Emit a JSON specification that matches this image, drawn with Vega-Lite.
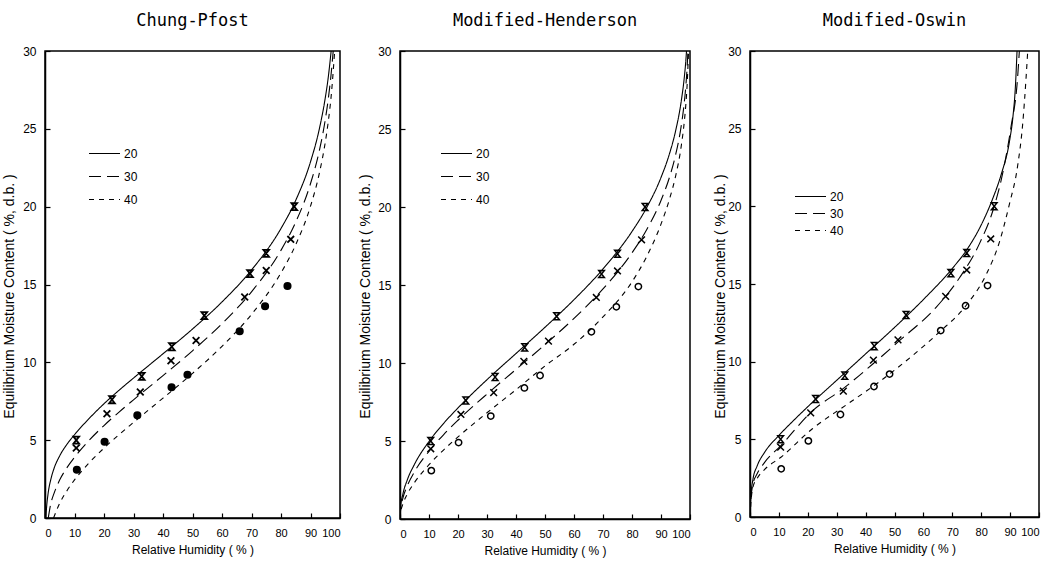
{
  "$schema": "https://vega.github.io/schema/vega-lite/v6.json",
  "background": "white",
  "padding": {"left": 1, "top": 11, "right": 5, "bottom": 5},
  "config": {
    "view": {"stroke": "black", "strokeWidth": 1.5},
    "title": {"font": "DejaVu Sans Mono", "fontSize": 17, "fontWeight": "normal", "color": "black", "offset": 15, "anchor": "middle"},
    "axis": {"grid": false, "domainColor": "black", "domainWidth": 1.5, "tickColor": "black", "tickSize": -5, "tickWidth": 1.2,
      "labelFont": "Liberation Sans Narrow, Liberation Sans", "labelFontSize": 12, "labelColor": "black", "labelOverlap": false,
      "titleFont": "Liberation Sans", "titleFontSize": 12, "titleFontWeight": "normal", "titleColor": "black", "labelPadding": 14},
    "axisX": {"titlePadding": 6, "labelOverlap": false, "labelFontSize": 11, "tickCount": 11},
    "axisY": {"titlePadding": 6, "titleFontSize": 14, "titleY": 245},
    "legend": {"padding": 0, "labelFont": "Liberation Sans Narrow, Liberation Sans", "labelFontSize": 12, "labelColor": "black",
      "symbolType": "stroke", "symbolStrokeColor": "black", "symbolStrokeWidth": 1.1, "symbolSize": 961, "labelOffset": 3, "rowPadding": 0, "title": null}
  },
  "datasets": {
    "pts": [
      {"T": "20", "RH": 10.6, "EMC": 5.0}, {"T": "20", "RH": 22.7, "EMC": 7.6}, {"T": "20", "RH": 32.8, "EMC": 9.1}, {"T": "20", "RH": 43, "EMC": 11.0},
      {"T": "20", "RH": 54, "EMC": 13.0}, {"T": "20", "RH": 69.5, "EMC": 15.7}, {"T": "20", "RH": 75, "EMC": 17.0}, {"T": "20", "RH": 84.5, "EMC": 20.0},
      {"T": "30", "RH": 10.6, "EMC": 4.5}, {"T": "30", "RH": 21, "EMC": 6.7}, {"T": "30", "RH": 32.3, "EMC": 8.1}, {"T": "30", "RH": 42.7, "EMC": 10.1},
      {"T": "30", "RH": 51.2, "EMC": 11.4}, {"T": "30", "RH": 67.7, "EMC": 14.2}, {"T": "30", "RH": 75, "EMC": 15.9}, {"T": "30", "RH": 83.3, "EMC": 17.9},
      {"T": "40", "RH": 10.8, "EMC": 3.1}, {"T": "40", "RH": 20.2, "EMC": 4.9}, {"T": "40", "RH": 31.3, "EMC": 6.6}, {"T": "40", "RH": 42.9, "EMC": 8.4},
      {"T": "40", "RH": 48.3, "EMC": 9.2}, {"T": "40", "RH": 66, "EMC": 12.0}, {"T": "40", "RH": 74.6, "EMC": 13.6}, {"T": "40", "RH": 82.2, "EMC": 14.9}
    ],
    "curves": [
      {"m": "CP", "T": "20", "RH": 0.3, "EMC": 0}, {"m": "CP", "T": "20", "RH": 0.5, "EMC": 0.6}, {"m": "CP", "T": "20", "RH": 1, "EMC": 1.5},
      {"m": "CP", "T": "20", "RH": 2, "EMC": 2.5}, {"m": "CP", "T": "20", "RH": 3, "EMC": 3.15}, {"m": "CP", "T": "20", "RH": 5, "EMC": 4.0},
      {"m": "CP", "T": "20", "RH": 7.5, "EMC": 4.75}, {"m": "CP", "T": "20", "RH": 10, "EMC": 5.35}, {"m": "CP", "T": "20", "RH": 15, "EMC": 6.4},
      {"m": "CP", "T": "20", "RH": 20, "EMC": 7.34}, {"m": "CP", "T": "20", "RH": 25, "EMC": 8.19}, {"m": "CP", "T": "20", "RH": 30, "EMC": 8.99},
      {"m": "CP", "T": "20", "RH": 40, "EMC": 10.55}, {"m": "CP", "T": "20", "RH": 50, "EMC": 12.14}, {"m": "CP", "T": "20", "RH": 60, "EMC": 13.88},
      {"m": "CP", "T": "20", "RH": 70, "EMC": 15.93}, {"m": "CP", "T": "20", "RH": 80, "EMC": 18.6}, {"m": "CP", "T": "20", "RH": 85, "EMC": 20.41},
      {"m": "CP", "T": "20", "RH": 90, "EMC": 22.88}, {"m": "CP", "T": "20", "RH": 93, "EMC": 25.0}, {"m": "CP", "T": "20", "RH": 95, "EMC": 26.98},
      {"m": "CP", "T": "20", "RH": 96, "EMC": 28.28}, {"m": "CP", "T": "20", "RH": 97, "EMC": 30},

      {"m": "CP", "T": "30", "RH": 1.1, "EMC": 0}, {"m": "CP", "T": "30", "RH": 2, "EMC": 0.95}, {"m": "CP", "T": "30", "RH": 3, "EMC": 1.55},
      {"m": "CP", "T": "30", "RH": 5, "EMC": 2.45}, {"m": "CP", "T": "30", "RH": 7.5, "EMC": 3.25}, {"m": "CP", "T": "30", "RH": 10, "EMC": 3.9},
      {"m": "CP", "T": "30", "RH": 15, "EMC": 5.0}, {"m": "CP", "T": "30", "RH": 20, "EMC": 5.94}, {"m": "CP", "T": "30", "RH": 25, "EMC": 6.79},
      {"m": "CP", "T": "30", "RH": 30, "EMC": 7.59}, {"m": "CP", "T": "30", "RH": 40, "EMC": 9.15}, {"m": "CP", "T": "30", "RH": 50, "EMC": 10.74},
      {"m": "CP", "T": "30", "RH": 60, "EMC": 12.48}, {"m": "CP", "T": "30", "RH": 70, "EMC": 14.53}, {"m": "CP", "T": "30", "RH": 80, "EMC": 17.2},
      {"m": "CP", "T": "30", "RH": 85, "EMC": 19.01}, {"m": "CP", "T": "30", "RH": 90, "EMC": 21.48}, {"m": "CP", "T": "30", "RH": 93, "EMC": 23.6},
      {"m": "CP", "T": "30", "RH": 95, "EMC": 25.58}, {"m": "CP", "T": "30", "RH": 96, "EMC": 26.88}, {"m": "CP", "T": "30", "RH": 97, "EMC": 28.54},
      {"m": "CP", "T": "30", "RH": 97.7, "EMC": 30},

      {"m": "CP", "T": "40", "RH": 2.9, "EMC": 0}, {"m": "CP", "T": "40", "RH": 5, "EMC": 0.95}, {"m": "CP", "T": "40", "RH": 7.5, "EMC": 1.77},
      {"m": "CP", "T": "40", "RH": 10, "EMC": 2.45}, {"m": "CP", "T": "40", "RH": 15, "EMC": 3.55}, {"m": "CP", "T": "40", "RH": 20, "EMC": 4.49},
      {"m": "CP", "T": "40", "RH": 25, "EMC": 5.34}, {"m": "CP", "T": "40", "RH": 30, "EMC": 6.14}, {"m": "CP", "T": "40", "RH": 40, "EMC": 7.7},
      {"m": "CP", "T": "40", "RH": 50, "EMC": 9.29}, {"m": "CP", "T": "40", "RH": 60, "EMC": 11.03}, {"m": "CP", "T": "40", "RH": 70, "EMC": 13.08},
      {"m": "CP", "T": "40", "RH": 80, "EMC": 15.75}, {"m": "CP", "T": "40", "RH": 85, "EMC": 17.56}, {"m": "CP", "T": "40", "RH": 90, "EMC": 20.03},
      {"m": "CP", "T": "40", "RH": 93, "EMC": 22.15}, {"m": "CP", "T": "40", "RH": 95, "EMC": 24.13}, {"m": "CP", "T": "40", "RH": 96, "EMC": 25.43},
      {"m": "CP", "T": "40", "RH": 97, "EMC": 27.09}, {"m": "CP", "T": "40", "RH": 98.2, "EMC": 30},

      {"m": "MH", "T": "20", "RH": 0, "EMC": 0}, {"m": "MH", "T": "20", "RH": 0.25, "EMC": 0.82}, {"m": "MH", "T": "20", "RH": 1, "EMC": 1.6},
      {"m": "MH", "T": "20", "RH": 2.5, "EMC": 2.5}, {"m": "MH", "T": "20", "RH": 5, "EMC": 3.51}, {"m": "MH", "T": "20", "RH": 10, "EMC": 4.97},
      {"m": "MH", "T": "20", "RH": 15, "EMC": 6.12}, {"m": "MH", "T": "20", "RH": 20, "EMC": 7.12}, {"m": "MH", "T": "20", "RH": 30, "EMC": 8.93},
      {"m": "MH", "T": "20", "RH": 40, "EMC": 10.61}, {"m": "MH", "T": "20", "RH": 50, "EMC": 12.29}, {"m": "MH", "T": "20", "RH": 60, "EMC": 14.06},
      {"m": "MH", "T": "20", "RH": 70, "EMC": 16.03}, {"m": "MH", "T": "20", "RH": 80, "EMC": 18.43}, {"m": "MH", "T": "20", "RH": 85, "EMC": 19.94},
      {"m": "MH", "T": "20", "RH": 90, "EMC": 21.89}, {"m": "MH", "T": "20", "RH": 93, "EMC": 23.46}, {"m": "MH", "T": "20", "RH": 95, "EMC": 24.85},
      {"m": "MH", "T": "20", "RH": 97, "EMC": 26.81}, {"m": "MH", "T": "20", "RH": 98, "EMC": 28.25}, {"m": "MH", "T": "20", "RH": 98.5, "EMC": 29.23},
      {"m": "MH", "T": "20", "RH": 98.8, "EMC": 30},

      {"m": "MH", "T": "30", "RH": 0, "EMC": 0}, {"m": "MH", "T": "30", "RH": 0.25, "EMC": 0.66}, {"m": "MH", "T": "30", "RH": 1, "EMC": 1.34},
      {"m": "MH", "T": "30", "RH": 2.5, "EMC": 2.12}, {"m": "MH", "T": "30", "RH": 5, "EMC": 3.03}, {"m": "MH", "T": "30", "RH": 10, "EMC": 4.34},
      {"m": "MH", "T": "30", "RH": 15, "EMC": 5.4}, {"m": "MH", "T": "30", "RH": 20, "EMC": 6.33}, {"m": "MH", "T": "30", "RH": 30, "EMC": 8.01},
      {"m": "MH", "T": "30", "RH": 40, "EMC": 9.59}, {"m": "MH", "T": "30", "RH": 50, "EMC": 11.18}, {"m": "MH", "T": "30", "RH": 60, "EMC": 12.86},
      {"m": "MH", "T": "30", "RH": 70, "EMC": 14.75}, {"m": "MH", "T": "30", "RH": 80, "EMC": 17.06}, {"m": "MH", "T": "30", "RH": 85, "EMC": 18.53},
      {"m": "MH", "T": "30", "RH": 90, "EMC": 20.42}, {"m": "MH", "T": "30", "RH": 93, "EMC": 21.95}, {"m": "MH", "T": "30", "RH": 95, "EMC": 23.31},
      {"m": "MH", "T": "30", "RH": 97, "EMC": 25.23}, {"m": "MH", "T": "30", "RH": 98, "EMC": 26.65}, {"m": "MH", "T": "30", "RH": 98.5, "EMC": 27.61},
      {"m": "MH", "T": "30", "RH": 99, "EMC": 28.92}, {"m": "MH", "T": "30", "RH": 99.3, "EMC": 30},

      {"m": "MH", "T": "40", "RH": 0, "EMC": 0}, {"m": "MH", "T": "40", "RH": 0.25, "EMC": 0.45}, {"m": "MH", "T": "40", "RH": 1, "EMC": 0.96},
      {"m": "MH", "T": "40", "RH": 2.5, "EMC": 1.59}, {"m": "MH", "T": "40", "RH": 5, "EMC": 2.34}, {"m": "MH", "T": "40", "RH": 10, "EMC": 3.48},
      {"m": "MH", "T": "40", "RH": 15, "EMC": 4.42}, {"m": "MH", "T": "40", "RH": 20, "EMC": 5.26}, {"m": "MH", "T": "40", "RH": 30, "EMC": 6.81},
      {"m": "MH", "T": "40", "RH": 40, "EMC": 8.29}, {"m": "MH", "T": "40", "RH": 50, "EMC": 9.81}, {"m": "MH", "T": "40", "RH": 60, "EMC": 11.2},
      {"m": "MH", "T": "40", "RH": 70, "EMC": 12.95}, {"m": "MH", "T": "40", "RH": 80, "EMC": 15.2}, {"m": "MH", "T": "40", "RH": 85, "EMC": 16.8},
      {"m": "MH", "T": "40", "RH": 90, "EMC": 18.9}, {"m": "MH", "T": "40", "RH": 93, "EMC": 20.55}, {"m": "MH", "T": "40", "RH": 95, "EMC": 21.95},
      {"m": "MH", "T": "40", "RH": 97, "EMC": 23.93}, {"m": "MH", "T": "40", "RH": 98, "EMC": 25.41}, {"m": "MH", "T": "40", "RH": 98.5, "EMC": 26.42},
      {"m": "MH", "T": "40", "RH": 99, "EMC": 27.8}, {"m": "MH", "T": "40", "RH": 99.5, "EMC": 30},

      {"m": "MO", "T": "20", "RH": 0, "EMC": 0}, {"m": "MO", "T": "20", "RH": 0.3, "EMC": 1.3}, {"m": "MO", "T": "20", "RH": 1, "EMC": 2.4},
      {"m": "MO", "T": "20", "RH": 2.5, "EMC": 3.3}, {"m": "MO", "T": "20", "RH": 5, "EMC": 4.15}, {"m": "MO", "T": "20", "RH": 10, "EMC": 5.25},
      {"m": "MO", "T": "20", "RH": 15, "EMC": 6.2}, {"m": "MO", "T": "20", "RH": 20, "EMC": 7.1}, {"m": "MO", "T": "20", "RH": 30, "EMC": 8.8},
      {"m": "MO", "T": "20", "RH": 40, "EMC": 10.5}, {"m": "MO", "T": "20", "RH": 50, "EMC": 12.2}, {"m": "MO", "T": "20", "RH": 60, "EMC": 14.0},
      {"m": "MO", "T": "20", "RH": 70, "EMC": 16.0}, {"m": "MO", "T": "20", "RH": 75, "EMC": 17.2}, {"m": "MO", "T": "20", "RH": 80, "EMC": 18.8},
      {"m": "MO", "T": "20", "RH": 84, "EMC": 20.5}, {"m": "MO", "T": "20", "RH": 87, "EMC": 22.1}, {"m": "MO", "T": "20", "RH": 89.8, "EMC": 24.2},
      {"m": "MO", "T": "20", "RH": 91, "EMC": 25.8}, {"m": "MO", "T": "20", "RH": 91.8, "EMC": 27.6}, {"m": "MO", "T": "20", "RH": 92.4, "EMC": 30},

      {"m": "MO", "T": "30", "RH": 0, "EMC": 0}, {"m": "MO", "T": "30", "RH": 0.3, "EMC": 1.1}, {"m": "MO", "T": "30", "RH": 1, "EMC": 2.1},
      {"m": "MO", "T": "30", "RH": 2.5, "EMC": 2.8}, {"m": "MO", "T": "30", "RH": 5, "EMC": 3.5}, {"m": "MO", "T": "30", "RH": 10.7, "EMC": 4.6},
      {"m": "MO", "T": "30", "RH": 21.7, "EMC": 6.85}, {"m": "MO", "T": "30", "RH": 32.1, "EMC": 8.25}, {"m": "MO", "T": "30", "RH": 42.5, "EMC": 9.85},
      {"m": "MO", "T": "30", "RH": 51.7, "EMC": 11.35}, {"m": "MO", "T": "30", "RH": 64.4, "EMC": 13.5}, {"m": "MO", "T": "30", "RH": 72.5, "EMC": 15.4},
      {"m": "MO", "T": "30", "RH": 79.4, "EMC": 17.6}, {"m": "MO", "T": "30", "RH": 84, "EMC": 19.7}, {"m": "MO", "T": "30", "RH": 87.4, "EMC": 22.1},
      {"m": "MO", "T": "30", "RH": 90.3, "EMC": 25.1}, {"m": "MO", "T": "30", "RH": 92.6, "EMC": 28.3}, {"m": "MO", "T": "30", "RH": 93.2, "EMC": 30},

      {"m": "MO", "T": "40", "RH": 0, "EMC": 0}, {"m": "MO", "T": "40", "RH": 0.3, "EMC": 0.9}, {"m": "MO", "T": "40", "RH": 1, "EMC": 1.9},
      {"m": "MO", "T": "40", "RH": 2.5, "EMC": 2.5}, {"m": "MO", "T": "40", "RH": 5, "EMC": 3.05}, {"m": "MO", "T": "40", "RH": 10.7, "EMC": 3.85},
      {"m": "MO", "T": "40", "RH": 21.7, "EMC": 5.7}, {"m": "MO", "T": "40", "RH": 33.2, "EMC": 7.2}, {"m": "MO", "T": "40", "RH": 44.7, "EMC": 8.7},
      {"m": "MO", "T": "40", "RH": 56.3, "EMC": 10.4}, {"m": "MO", "T": "40", "RH": 65.5, "EMC": 11.9}, {"m": "MO", "T": "40", "RH": 74.7, "EMC": 13.6},
      {"m": "MO", "T": "40", "RH": 81.7, "EMC": 15.6}, {"m": "MO", "T": "40", "RH": 86.3, "EMC": 17.7}, {"m": "MO", "T": "40", "RH": 89.7, "EMC": 20.1},
      {"m": "MO", "T": "40", "RH": 92.6, "EMC": 22.6}, {"m": "MO", "T": "40", "RH": 94.4, "EMC": 25.4}, {"m": "MO", "T": "40", "RH": 95.5, "EMC": 28.2},
      {"m": "MO", "T": "40", "RH": 96.1, "EMC": 30}
    ]
  },
  "spacing": 60,
  "bounds": "flush",
  "resolve": {"legend": {"strokeDash": "independent"}},
  "hconcat": [
    {
      "title": "Chung-Pfost",
      "width": 295, "height": 467,
      "layer": [
        {
          "data": {"name": "curves"},
          "transform": [{"filter": "datum.m === 'CP'"}],
          "mark": {"type": "line", "color": "black", "strokeWidth": 1.1, "interpolate": "monotone", "clip": true},
          "encoding": {
            "x": {"field": "RH", "type": "quantitative", "scale": {"domain": [0, 100], "nice": false}, "axis": {"values": [0,10,20,30,40,50,60,70,80,90,100], "labelOverlap": false, "labelBound": false, "title": "Relative Humidity ( % )"}},
            "y": {"field": "EMC", "type": "quantitative", "scale": {"domain": [0, 30], "nice": false}, "axis": {"values": [0,5,10,15,20,25,30], "titlePadding": 6, "title": "Equilibrium Moisture Content ( %, d.b. )"}},
            "strokeDash": {"field": "T", "type": "nominal", "scale": {"domain": ["20","30","40"], "range": [[1,0],[12,6],[5,5]]}, "legend": {"orient": "none", "legendX": 43, "legendY": 86}}
          }
        },
        {
          "data": {"name": "pts"},
          "mark": {"type": "point", "filled": false, "strokeWidth": 1.8, "color": "black", "opacity": 1},
          "encoding": {
            "x": {"field": "RH", "type": "quantitative", "axis": {"values": [0,10,20,30,40,50,60,70,80,90,100], "labelOverlap": false, "labelBound": false, "title": "Relative Humidity ( % )"}},
            "y": {"field": "EMC", "type": "quantitative", "axis": {"values": [0,5,10,15,20,25,30], "titlePadding": 6, "title": "Equilibrium Moisture Content ( %, d.b. )"}},
            "shape": {"field": "T", "type": "nominal", "scale": {"domain": ["20","30","40"], "range": ["M-0.8,-1H0.8L-0.8,1H0.8Z", "M-1,-1L1,1M1,-1L-1,1", "circle"]}, "legend": null},
            "size": {"field": "T", "type": "nominal", "scale": {"domain": ["20","30","40"], "range": [50, 40, 12]}, "legend": null},
            "fill": {"field": "T", "type": "nominal", "scale": {"domain": ["20","30","40"], "range": ["transparent","transparent","black"]}, "legend": null}
          }
        }
      ]
    },
    {
      "title": "Modified-Henderson",
      "width": 290, "height": 468,
      "layer": [
        {
          "data": {"name": "curves"},
          "transform": [{"filter": "datum.m === 'MH'"}],
          "mark": {"type": "line", "color": "black", "strokeWidth": 1.1, "interpolate": "monotone", "clip": true},
          "encoding": {
            "x": {"field": "RH", "type": "quantitative", "scale": {"domain": [0, 100], "nice": false}, "axis": {"values": [0,10,20,30,40,50,60,70,80,90,100], "labelOverlap": false, "labelBound": false, "title": "Relative Humidity ( % )"}},
            "y": {"field": "EMC", "type": "quantitative", "scale": {"domain": [0, 30], "nice": false}, "axis": {"values": [0,5,10,15,20,25,30], "titlePadding": 5, "title": "Equilibrium Moisture Content ( %, d.b. )"}},
            "strokeDash": {"field": "T", "type": "nominal", "scale": {"domain": ["20","30","40"], "range": [[1,0],[12,6],[5,5]]}, "legend": {"orient": "none", "legendX": 40, "legendY": 86}}
          }
        },
        {
          "data": {"name": "pts"},
          "mark": {"type": "point", "filled": false, "strokeWidth": 1.5, "color": "black", "opacity": 1},
          "encoding": {
            "x": {"field": "RH", "type": "quantitative", "axis": {"values": [0,10,20,30,40,50,60,70,80,90,100], "labelOverlap": false, "labelBound": false, "title": "Relative Humidity ( % )"}},
            "y": {"field": "EMC", "type": "quantitative", "axis": {"values": [0,5,10,15,20,25,30], "titlePadding": 5, "title": "Equilibrium Moisture Content ( %, d.b. )"}},
            "shape": {"field": "T", "type": "nominal", "scale": {"domain": ["20","30","40"], "range": ["M-0.8,-1H0.8L-0.8,1H0.8Z", "M-1,-1L1,1M1,-1L-1,1", "circle"]}, "legend": null},
            "size": {"field": "T", "type": "nominal", "scale": {"domain": ["20","30","40"], "range": [50, 40, 16]}, "legend": null}
          }
        }
      ]
    },
    {
      "title": "Modified-Oswin",
      "width": 289, "height": 466,
      "layer": [
        {
          "data": {"name": "curves"},
          "transform": [{"filter": "datum.m === 'MO'"}],
          "mark": {"type": "line", "color": "black", "strokeWidth": 1.1, "interpolate": "monotone", "clip": true},
          "encoding": {
            "x": {"field": "RH", "type": "quantitative", "scale": {"domain": [0, 100], "nice": false}, "axis": {"values": [0,10,20,30,40,50,60,70,80,90,100], "labelOverlap": false, "labelBound": false, "title": "Relative Humidity ( % )"}},
            "y": {"field": "EMC", "type": "quantitative", "scale": {"domain": [0, 30], "nice": false}, "axis": {"values": [0,5,10,15,20,25,30], "titlePadding": 0, "title": "Equilibrium Moisture Content ( %, d.b. )"}},
            "strokeDash": {"field": "T", "type": "nominal", "scale": {"domain": ["20","30","40"], "range": [[1,0],[12,6],[5,5]]}, "legend": {"orient": "none", "legendX": 44, "legendY": 137, "clipHeight": 17}}
          }
        },
        {
          "data": {"name": "pts"},
          "mark": {"type": "point", "filled": false, "strokeWidth": 1.5, "color": "black", "opacity": 1},
          "encoding": {
            "x": {"field": "RH", "type": "quantitative", "axis": {"values": [0,10,20,30,40,50,60,70,80,90,100], "labelOverlap": false, "labelBound": false, "title": "Relative Humidity ( % )"}},
            "y": {"field": "EMC", "type": "quantitative", "axis": {"values": [0,5,10,15,20,25,30], "titlePadding": 0, "title": "Equilibrium Moisture Content ( %, d.b. )"}},
            "shape": {"field": "T", "type": "nominal", "scale": {"domain": ["20","30","40"], "range": ["M-0.8,-1H0.8L-0.8,1H0.8Z", "M-1,-1L1,1M1,-1L-1,1", "circle"]}, "legend": null},
            "size": {"field": "T", "type": "nominal", "scale": {"domain": ["20","30","40"], "range": [50, 40, 16]}, "legend": null}
          }
        }
      ]
    }
  ]
}
